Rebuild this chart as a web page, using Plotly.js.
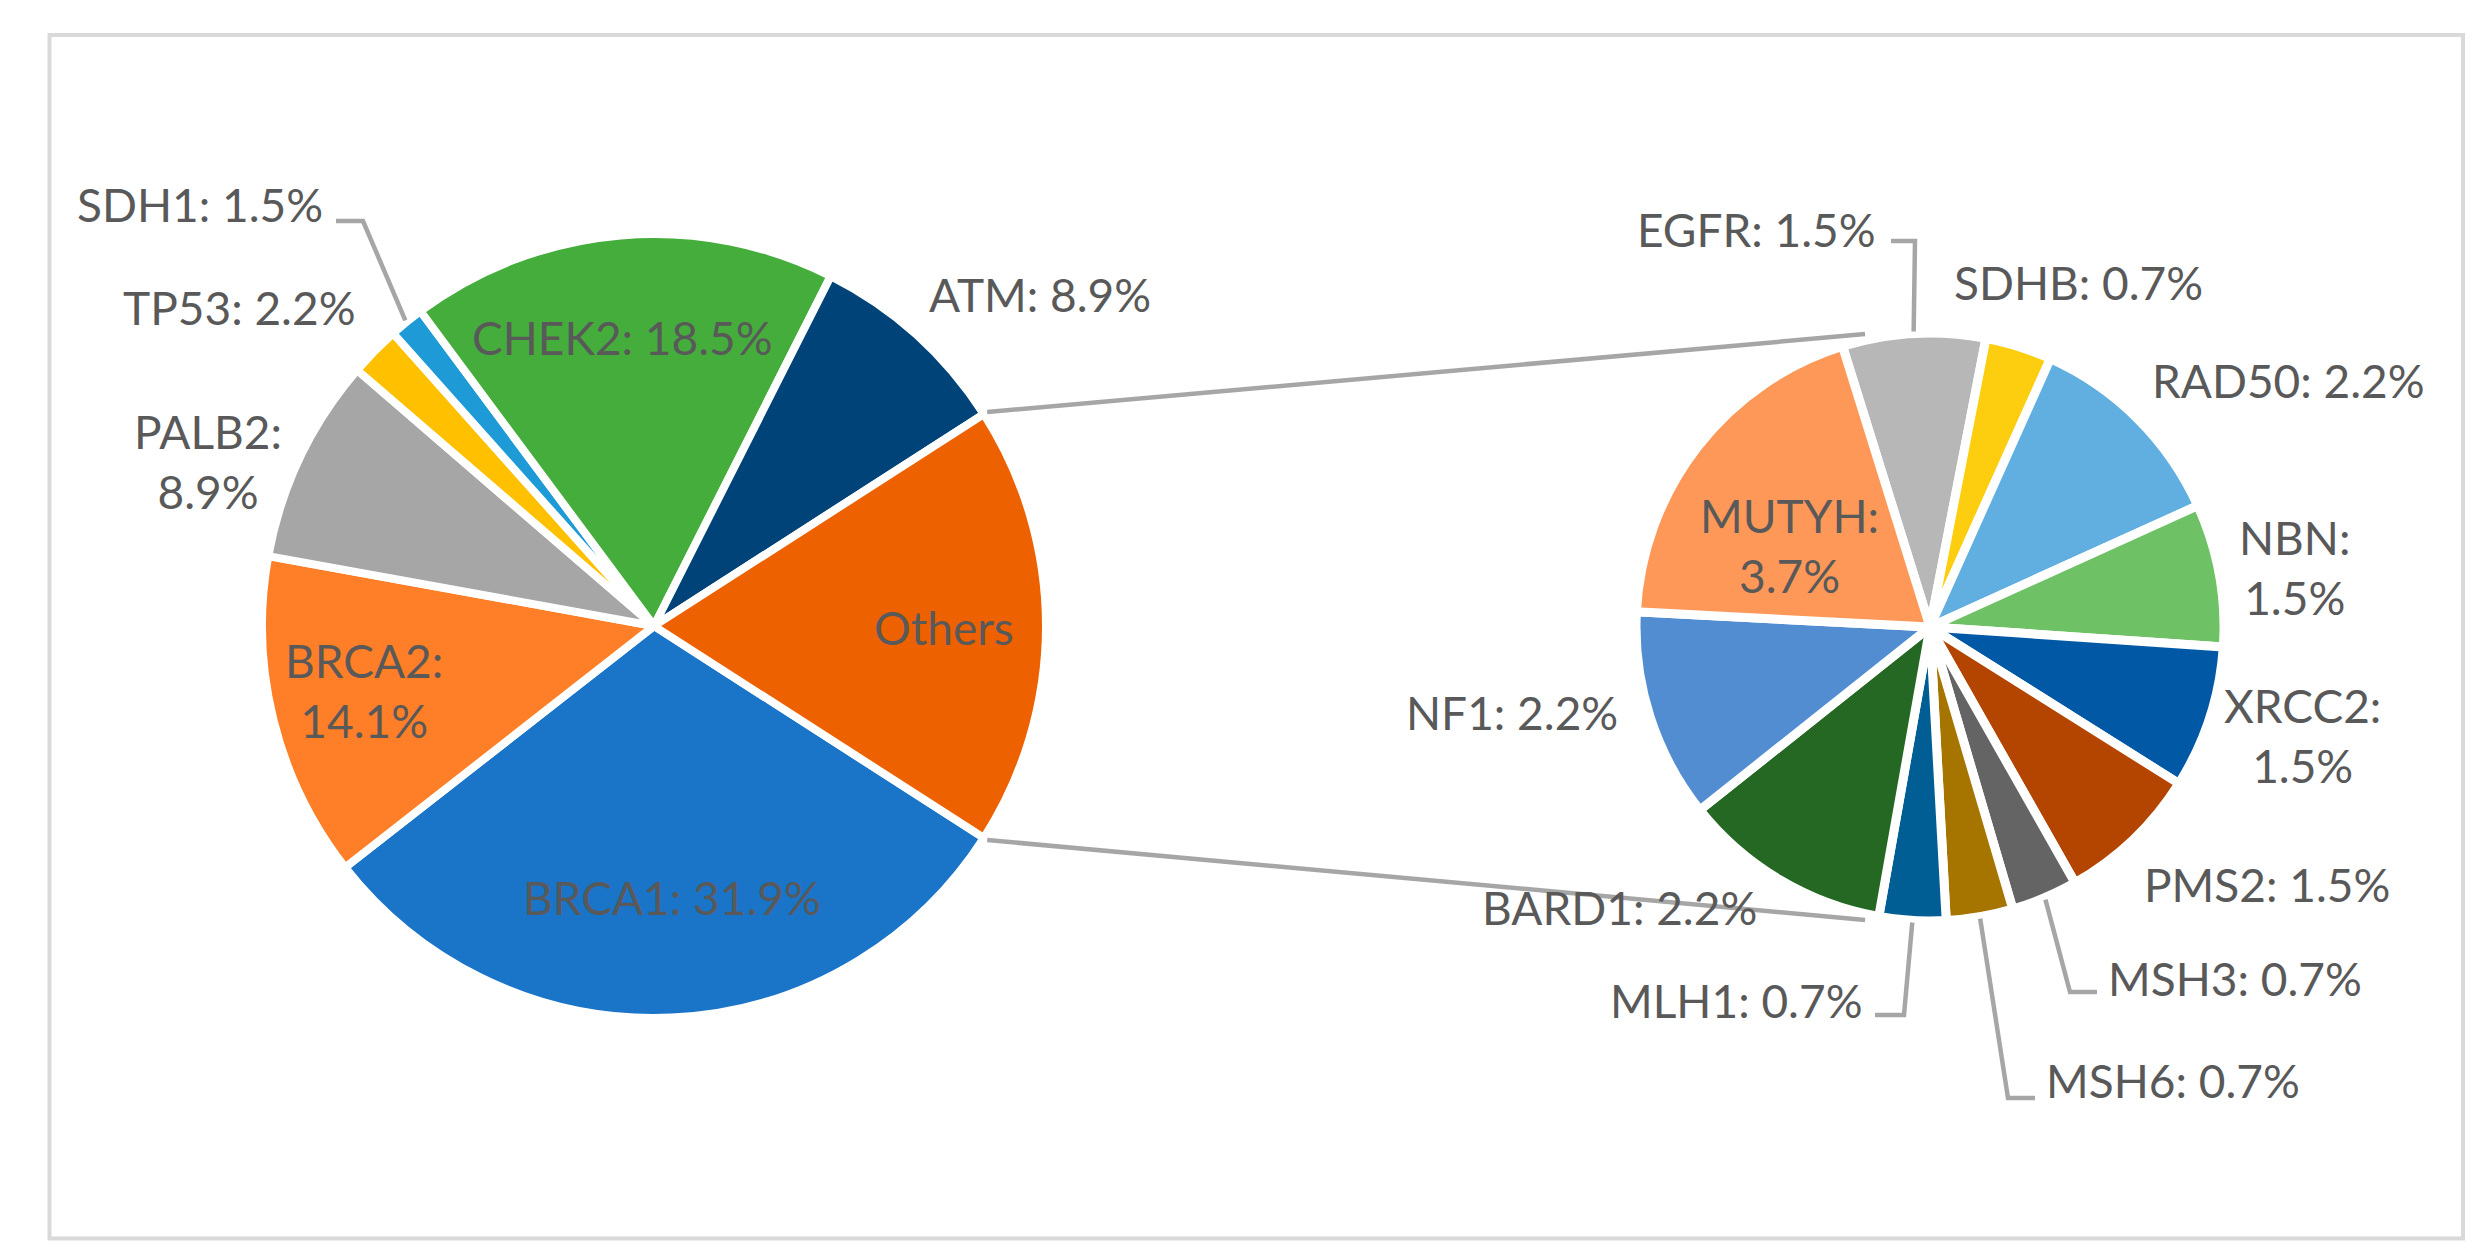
<!DOCTYPE html>
<html>
<head>
<meta charset="utf-8">
<script src="https://cdn.plot.ly/plotly-3.0.1.min.js"></script>
<style>
  html, body { margin: 0; padding: 0; background: #ffffff; }
  #chart { width: 2487px; height: 1260px; }
</style>
</head>
<body>
<div id="chart"></div>
<script>
// ---------------- DATA ----------------
const mainGenes  = ['BRCA1', 'BRCA2', 'PALB2', 'TP53', 'SDH1', 'CHEK2', 'ATM'];
const mainValues = [31.9, 14.1, 8.9, 2.2, 1.5, 18.5, 8.9];
const otherGenes  = ['EGFR', 'SDHB', 'RAD50', 'NBN', 'XRCC2', 'PMS2', 'MSH3', 'MSH6', 'MLH1', 'BARD1', 'NF1', 'MUTYH'];
const otherValues = [1.5, 0.7, 2.2, 1.5, 1.5, 1.5, 0.7, 0.7, 0.7, 2.2, 2.2, 3.7];
const othersLabel = 'Others';

// ---------------- STYLE ----------------
const W = 2487, H = 1260;
const mainColors  = ['#1A74C8', '#FE7F27', '#A6A6A6', '#FFC000', '#1E9BD7', '#45AD3C', '#004379', '#EE6100'];
const otherColors = ['#B7B7B7', '#FDCD0F', '#61AFE0', '#6EC164', '#0159A6', '#B34500', '#646464', '#A57500', '#005E95', '#246823', '#538DD1', '#FE9858'];
const MAIN = { cx: 654, cy: 626, r: 392, line: 8 };
const SUB  = { cx: 1930, cy: 627, r: 294, line: 9, rotation: -17.3 };
const TEXT_COLOR = '#595959';
const FONT = 'Lato, "Open Sans", sans-serif';
const FONT_SIZE = 46;
const LINE_COLOR = '#A6A6A6';
const LINE_WIDTH = 4.5;

// labels split over two lines in the reference
const twoLine = ['PALB2', 'BRCA2', 'NBN', 'XRCC2', 'MUTYH'];
// label centres (pixels)
const labelPos = {
  BRCA1: [672, 897], BRCA2: [364, 690], PALB2: [208, 461], TP53: [239, 307],
  SDH1: [200, 205], CHEK2: [622, 338], ATM: [1040, 294], Others: [944, 627],
  EGFR: [1756, 229], SDHB: [2078, 282], RAD50: [2288, 380], NBN: [2294, 567],
  XRCC2: [2302, 735], PMS2: [2267, 885], MSH3: [2235, 978], MSH6: [2173, 1080],
  MLH1: [1736, 1000], BARD1: [1619, 907], NF1: [1512, 712], MUTYH: [1789, 545]
};
// leader lines: start near label, elbow, then to the slice edge
const leaders = [
  { gene: 'SDH1', start: [336, 221],  elbow: [363, 221] },
  { gene: 'EGFR', start: [1891, 241], elbow: [1915, 241] },
  { gene: 'MLH1', start: [1875, 1015], elbow: [1904, 1015] },
  { gene: 'MSH6', start: [2035, 1098], elbow: [2008, 1098] },
  { gene: 'MSH3', start: [2097, 992],  elbow: [2070, 992] }
];

// ---------------- GEOMETRY ----------------
const sum = a => a.reduce((s, v) => s + v, 0);
const othersTotal = +sum(otherValues).toFixed(1);
const mainLabels = mainGenes.concat([othersLabel]);
const mainVals = mainValues.concat([othersTotal]);
const mainTotal = sum(mainVals);
const othersDeg = 360 * othersTotal / mainTotal;
const mainRotation = 90 + othersDeg / 2;   // "Others" centred at 3 o'clock
const subTotal = sum(otherValues);

const X = px => px / W;
const Y = py => 1 - py / H;
function pt(c, r, deg) {
  const a = deg * Math.PI / 180;
  return [c.cx + r * Math.sin(a), c.cy - r * Math.cos(a)];
}
function midAngles(vals, total, rot) {
  const out = []; let cum = 0;
  vals.forEach(v => { out.push(rot + 360 * (cum + v / 2) / total); cum += v; });
  return out;
}
const mainMid = midAngles(mainVals, mainTotal, mainRotation);
const subMid = midAngles(otherValues, subTotal, SUB.rotation);

function domainOf(c) {
  return {
    x: [X(c.cx - c.r), X(c.cx + c.r)],
    y: [Y(c.cy + c.r), Y(c.cy - c.r)]
  };
}

const traces = [
  {
    type: 'pie', labels: mainLabels, values: mainVals, sort: false,
    direction: 'clockwise', rotation: mainRotation,
    marker: { colors: mainColors, line: { color: '#ffffff', width: MAIN.line } },
    textinfo: 'none', hoverinfo: 'none', domain: domainOf(MAIN), showlegend: false
  },
  {
    type: 'pie', labels: otherGenes, values: otherValues, sort: false,
    direction: 'clockwise', rotation: SUB.rotation,
    marker: { colors: otherColors, line: { color: '#ffffff', width: SUB.line } },
    textinfo: 'none', hoverinfo: 'none', domain: domainOf(SUB), showlegend: false
  }
];

// ---------------- LABELS ----------------
const annotations = [];
function addLabel(gene, value) {
  const p = labelPos[gene];
  let text;
  if (value === null) text = gene;
  else if (twoLine.includes(gene)) text = gene + ':<br>' + value.toFixed(1) + '%';
  else text = gene + ': ' + value.toFixed(1) + '%';
  annotations.push({
    x: X(p[0]), y: Y(p[1]), xref: 'paper', yref: 'paper',
    xanchor: 'center', yanchor: 'middle', showarrow: false, align: 'center',
    text: text, font: { family: FONT, size: FONT_SIZE, color: TEXT_COLOR }
  });
}
mainGenes.forEach((g, i) => addLabel(g, mainValues[i]));
addLabel(othersLabel, null);
otherGenes.forEach((g, i) => addLabel(g, otherValues[i]));

// ---------------- LINES ----------------
const shapes = [];
function pathOf(points) {
  return 'M ' + points.map(p => X(p[0]).toFixed(6) + ',' + Y(p[1]).toFixed(6)).join(' L ');
}
// chart border
shapes.push({
  type: 'rect', xref: 'paper', yref: 'paper',
  x0: X(49.5), x1: X(2463), y0: Y(1238.5), y1: Y(35),
  line: { color: '#D9D9D9', width: 4 }, fillcolor: 'rgba(0,0,0,0)', layer: 'below'
});
// connector lines between "Others" and the secondary pie
const oStart = mainRotation - othersDeg;   // upper edge of Others slice
const oEnd = mainRotation;                 // lower edge of Others slice
const subEndAngle = 12.5;
const conn = [
  [pt(MAIN, MAIN.r + 4, oStart), pt(SUB, SUB.r + 6, -subEndAngle)],
  [pt(MAIN, MAIN.r + 4, oEnd), pt(SUB, SUB.r + 6, 180 + subEndAngle)]
];
conn.forEach(c => shapes.push({
  type: 'path', xref: 'paper', yref: 'paper', path: pathOf(c),
  line: { color: LINE_COLOR, width: LINE_WIDTH }, layer: 'above'
}));
// leader lines
leaders.forEach(l => {
  let end;
  const mi = mainGenes.indexOf(l.gene);
  if (mi >= 0) end = pt(MAIN, MAIN.r + 2, mainMid[mi]);
  else end = pt(SUB, SUB.r + 2, subMid[otherGenes.indexOf(l.gene)]);
  shapes.push({
    type: 'path', xref: 'paper', yref: 'paper', path: pathOf([l.start, l.elbow, end]),
    line: { color: LINE_COLOR, width: LINE_WIDTH }, layer: 'above'
  });
});

const layout = {
  width: W, height: H,
  margin: { l: 0, r: 0, t: 0, b: 0, pad: 0 },
  paper_bgcolor: '#ffffff', plot_bgcolor: '#ffffff',
  showlegend: false,
  annotations: annotations,
  shapes: shapes
};

Plotly.newPlot('chart', traces, layout, { displayModeBar: false, staticPlot: true });
</script>
</body>
</html>
